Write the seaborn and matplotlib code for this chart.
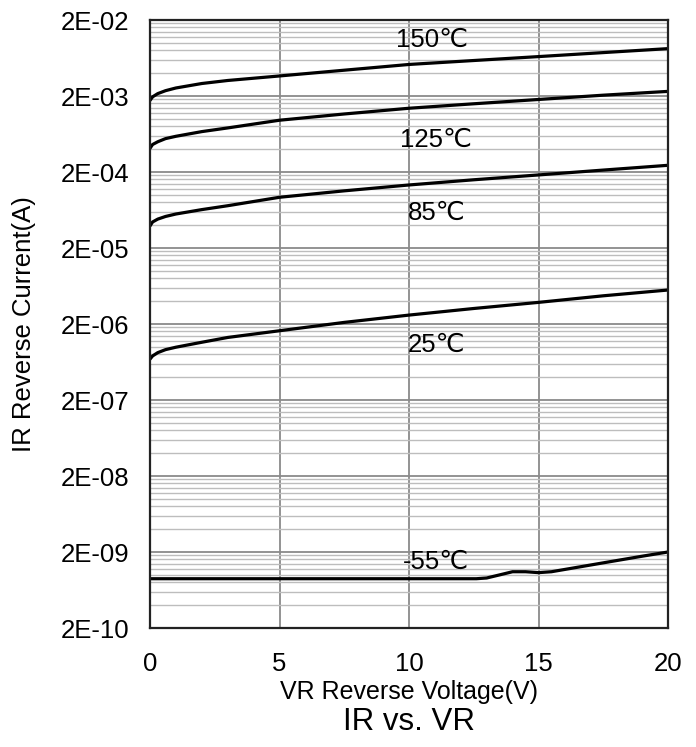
import numpy as np
import pandas as pd
import matplotlib
matplotlib.use("Agg")
import matplotlib.pyplot as plt
import matplotlib.ticker as mticker
import seaborn as sns

# ---------------- data ----------------
v_main = [0, 0.1, 0.3, 0.6, 1, 2, 3, 5, 7.5, 10, 12.5, 15, 17.5, 20]
ir_150 = [1.75e-3, 1.95e-3, 2.15e-3, 2.35e-3, 2.55e-3, 2.92e-3, 3.2e-3,
          3.67e-3, 4.37e-3, 5.2e-3, 5.86e-3, 6.6e-3, 7.45e-3, 8.4e-3]
ir_125 = [4.1e-4, 4.6e-4, 5.0e-4, 5.5e-4, 5.9e-4, 6.8e-4, 7.6e-4,
          9.6e-4, 1.16e-3, 1.38e-3, 1.58e-3, 1.8e-3, 2.05e-3, 2.3e-3]
ir_85 = [3.9e-5, 4.4e-5, 4.8e-5, 5.2e-5, 5.6e-5, 6.4e-5, 7.2e-5,
         9.3e-5, 1.13e-4, 1.35e-4, 1.58e-4, 1.83e-4, 2.12e-4, 2.45e-4]
ir_25 = [6.9e-7, 7.6e-7, 8.4e-7, 9.2e-7, 9.9e-7, 1.15e-6, 1.33e-6,
         1.63e-6, 2.1e-6, 2.62e-6, 3.2e-6, 3.85e-6, 4.7e-6, 5.6e-6]
v_cold = [0, 5, 10, 12.6, 13.0, 13.5, 14.0, 14.5, 15.0, 15.5, 17.5, 19, 20]
ir_m55 = [8.9e-10, 8.9e-10, 8.9e-10, 8.9e-10, 9.1e-10, 1.0e-9, 1.1e-9,
          1.1e-9, 1.07e-9, 1.1e-9, 1.44e-9, 1.76e-9, 2.0e-9]

temps = ["150℃", "125℃", "85℃", "25℃", "-55℃"]
label_x = [10.9, 11.05, 11.05, 11.05, 11.05]
label_y = [1.09e-2, 5.3e-4, 5.8e-5, 1.06e-6, 1.48e-9]

y_ticks = [2e-10, 2e-9, 2e-8, 2e-7, 2e-6, 2e-5, 2e-4, 2e-3, 2e-2]
x_ticks = [0, 5, 10, 15, 20]
minor_mult = [2, 3, 4, 5, 6, 7, 8, 9]

series = [(v_main, ir_150), (v_main, ir_125), (v_main, ir_85),
          (v_main, ir_25), (v_cold, ir_m55)]
frames = []
for t, (vx, iy) in zip(temps, series):
    frames.append(pd.DataFrame({"V": vx, "I": iy, "T": t}))
df = pd.concat(frames, ignore_index=True)

# ---------------- style ----------------
sns.set_theme(style="white")
plt.rcParams["font.family"] = ["Liberation Sans", "DejaVu Sans"]
plt.rcParams["axes.labelcolor"] = "black"
plt.rcParams["text.color"] = "black"

fig = plt.figure(figsize=(6.96, 7.47), dpi=100)
ax = fig.add_axes([150 / 696, 1 - 628 / 747, 518 / 696, 608 / 747])

sns.lineplot(data=df, x="V", y="I", hue="T", palette={t: "black" for t in temps},
             estimator=None, sort=False, legend=False, linewidth=2.3, ax=ax)

ax.set_yscale("log")
ax.set_xlim(0, 20)
ax.set_ylim(y_ticks[0], y_ticks[-1])
ax.yaxis.set_major_locator(mticker.FixedLocator(y_ticks))
minor_pos = [b * k for b in y_ticks[:-1] for k in minor_mult]
ax.yaxis.set_minor_locator(mticker.FixedLocator(minor_pos))
ax.yaxis.set_major_formatter(mticker.FuncFormatter(lambda v, p: format(v, ".0E")))
ax.yaxis.set_minor_formatter(mticker.NullFormatter())
ax.xaxis.set_major_locator(mticker.FixedLocator(x_ticks))

ax.grid(which="major", color="#8a8a8a", linewidth=1.3)
ax.grid(which="minor", axis="y", color="#bdbdbd", linewidth=1.0)
ax.set_axisbelow(True)

for s in ax.spines.values():
    s.set_color("#222222")
    s.set_linewidth(1.6)

ax.tick_params(axis="both", which="both", length=0, labelsize=18.5, colors="black")
ax.tick_params(axis="x", pad=17)
ax.tick_params(axis="y", pad=15)

ax.set_xlabel("VR Reverse Voltage(V)", fontsize=18, labelpad=3, color="black")
ax.set_ylabel("IR Reverse Current(A)", fontsize=18.5, labelpad=18, color="black")

for t, lx, ly in zip(temps, label_x, label_y):
    ax.text(lx, ly, t, ha="center", va="center", fontsize=18.5, color="black")

fig.text(409 / 696, 1 - 722 / 747, "IR vs. VR", ha="center", va="center",
         fontsize=22.5, color="black")

fig.savefig("out.png", dpi=100)
